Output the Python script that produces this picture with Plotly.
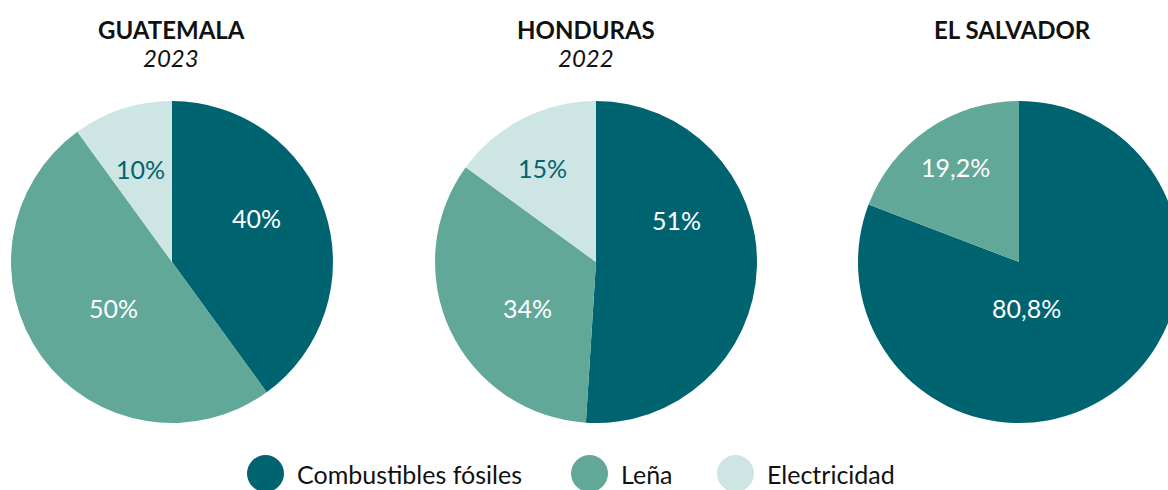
import plotly.graph_objects as go

categories = ["Combustibles fósiles", "Leña", "Electricidad"]
colors = ["#006470", "#62a898", "#cde6e4"]
text_colors = ["#ffffff", "#ffffff", "#006470"]

countries = ["GUATEMALA", "HONDURAS", "EL SALVADOR"]
years = ["2023", "2022", ""]
guatemala = [40, 50, 10]
honduras = [51, 34, 15]
el_salvador = [80.8, 19.2]
values = [guatemala, honduras, el_salvador]

# layout / style (pixels)
W, H = 1182, 490
centers_px = [172, 596, 1019]
title_x_px = [171, 586, 1012]
R = 161
CY = 262
# label offsets from pie centre (px), per slice
label_offsets = [
    [(84, -44), (-59, 46), (-32, -93)],
    [(80, -42), (-69, 46), (-54, -94)],
    [(7, 46), (-64, -95)],
]

def fmt(v):
    return f"{v:g}".replace(".", ",") + "%"

fig = go.Figure()
for i, (name, vals) in enumerate(zip(countries, values)):
    n = len(vals)
    cx = centers_px[i]
    fig.add_trace(go.Pie(
        labels=categories[:n], values=vals, text=[fmt(v) for v in vals],
        textinfo="none", sort=False, direction="clockwise", rotation=0,
        marker=dict(colors=colors[:n], line=dict(width=0)),
        domain=dict(x=[(cx - R) / W, (cx + R) / W], y=[(H - CY - R) / H, (H - CY + R) / H]),
        showlegend=False, hoverinfo="label+text", name=name,
    ))
    for j, v in enumerate(vals):
        dx, dy = label_offsets[i][j]
        fig.add_annotation(x=(cx + dx) / W, y=(H - CY - dy) / H, xref="paper", yref="paper",
                           xanchor="center", yanchor="middle", text=fmt(v), showarrow=False,
                           font=dict(family="Lato", size=25, color=text_colors[j]))
    tx = title_x_px[i]
    fig.add_annotation(x=tx / W, y=(H - 29) / H, xref="paper", yref="paper",
                       xanchor="center", yanchor="middle",
                       text=f"<b>{name}</b>", showarrow=False,
                       font=dict(family="Lato", size=24, color="#111111"))
    if years[i]:
        fig.add_annotation(x=tx / W, y=(H - 58) / H, xref="paper", yref="paper",
                           xanchor="center", yanchor="middle",
                           text=f"<i>{years[i]}</i>", showarrow=False,
                           font=dict(family="Lato", size=24, color="#111111"))

# legend
leg_x = [247, 571, 717]
for cat, col, lx in zip(categories, colors, leg_x):
    fig.add_shape(type="circle", xref="paper", yref="paper",
                  x0=lx / W, x1=(lx + 37) / W, y0=(H - 492) / H, y1=(H - 455) / H,
                  fillcolor=col, line=dict(width=0))
    fig.add_annotation(x=(lx + 48) / W, y=(H - 474) / H, xref="paper", yref="paper",
                       xanchor="left", yanchor="middle", text=cat, showarrow=False,
                       font=dict(family="Lato", size=25, color="#111111"))

fig.update_layout(width=W, height=H, margin=dict(l=0, r=0, t=0, b=0),
                  paper_bgcolor="white", plot_bgcolor="white")
fig.write_html("out.html")
